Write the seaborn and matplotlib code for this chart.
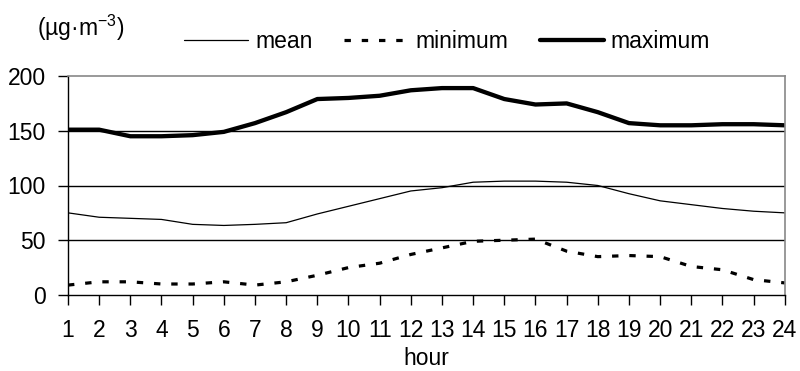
import matplotlib
matplotlib.use("Agg")
import matplotlib.pyplot as plt
import seaborn as sns
import pandas as pd

hours = list(range(1, 25))
mean_vals = [75, 71, 70, 69, 64.5, 63.5, 64.5, 66, 74, 81, 88, 95, 98, 103, 104, 104, 103, 100, 92.5, 86, 82.5, 79, 76.5, 75]
min_vals = [9, 12, 12, 10, 10, 12, 9, 12, 18, 25, 29, 37, 43, 49, 50, 51, 40, 35, 36, 35, 26, 23, 14, 11]
max_vals = [151, 151, 145, 145, 146, 149, 157, 167, 179, 180, 182, 187, 189, 189, 179, 174, 175, 167, 157, 155, 155, 156, 156, 155]
series_names = ["mean", "minimum", "maximum"]
y_ticks = [0, 50, 100, 150, 200]

FS = 16.5
MIN_DASH = (2.0, 3.4)
sns.set_theme(style="white")
plt.rcParams['font.family'] = ['Liberation Sans', 'DejaVu Sans']
plt.rcParams['xtick.labelsize'] = FS
plt.rcParams['ytick.labelsize'] = FS
plt.rcParams['xtick.color'] = 'black'
plt.rcParams['ytick.color'] = 'black'
plt.rcParams['text.color'] = 'black'
plt.rcParams['axes.labelcolor'] = 'black'

df = pd.DataFrame({"hour": hours, "mean": mean_vals, "minimum": min_vals, "maximum": max_vals})

fig = plt.figure(figsize=(8, 3.71), dpi=100)
ax = fig.add_axes([0.085, 0.205, 0.896, 0.59])

styles = {
    "mean": dict(color="black", linewidth=0.9),
    "minimum": dict(color="black", linewidth=2.3),
    "maximum": dict(color="black", linewidth=3.1),
}
for name in series_names:
    sns.lineplot(data=df, x="hour", y=name, ax=ax, label=name, **styles[name])
    if name == "minimum":
        ax.lines[-1].set_dashes(MIN_DASH)

ax.set_xlim(1, 24)
ax.set_ylim(0, 200)
ax.set_xticks(hours)
ax.set_xticklabels([str(h) for h in hours], fontsize=FS)
ax.set_yticks(y_ticks)
ax.set_yticklabels([str(v) for v in y_ticks], fontsize=FS)
ax.tick_params(axis="x", direction="out", length=7, width=1, bottom=True, pad=10, labelsize=FS)
ax.tick_params(axis="y", direction="out", length=7, width=1, left=True, pad=9, labelsize=FS)

ax.yaxis.grid(True, color="black", linewidth=1)
gl = ax.yaxis.get_gridlines()
gl[0].set_visible(False)
gl[-1].set_visible(False)
ax.set_axisbelow(True)

for s in ["left", "bottom"]:
    ax.spines[s].set_color("black")
    ax.spines[s].set_linewidth(1)
for s in ["top", "right"]:
    ax.spines[s].set_color("#888888")
    ax.spines[s].set_linewidth(1.2)

ax.set_xlabel("hour", fontsize=FS, labelpad=4)
ax.set_ylabel("")

leg = ax.legend(loc="center", bbox_to_anchor=(0.559, 0.888), bbox_transform=fig.transFigure,
                ncol=3, frameon=False, fontsize=FS, handlelength=2.8, handletextpad=0.3,
                columnspacing=1.38)
for lh, name in zip(leg.get_lines(), series_names):
    if name == "minimum":
        lh.set_dashes(MIN_DASH)

fig.text(0.046, 0.925, "(µg·m$^{\\mathregular{-3}}$)", fontsize=FS, ha="left", va="center")

fig.savefig("out.png", dpi=100)
